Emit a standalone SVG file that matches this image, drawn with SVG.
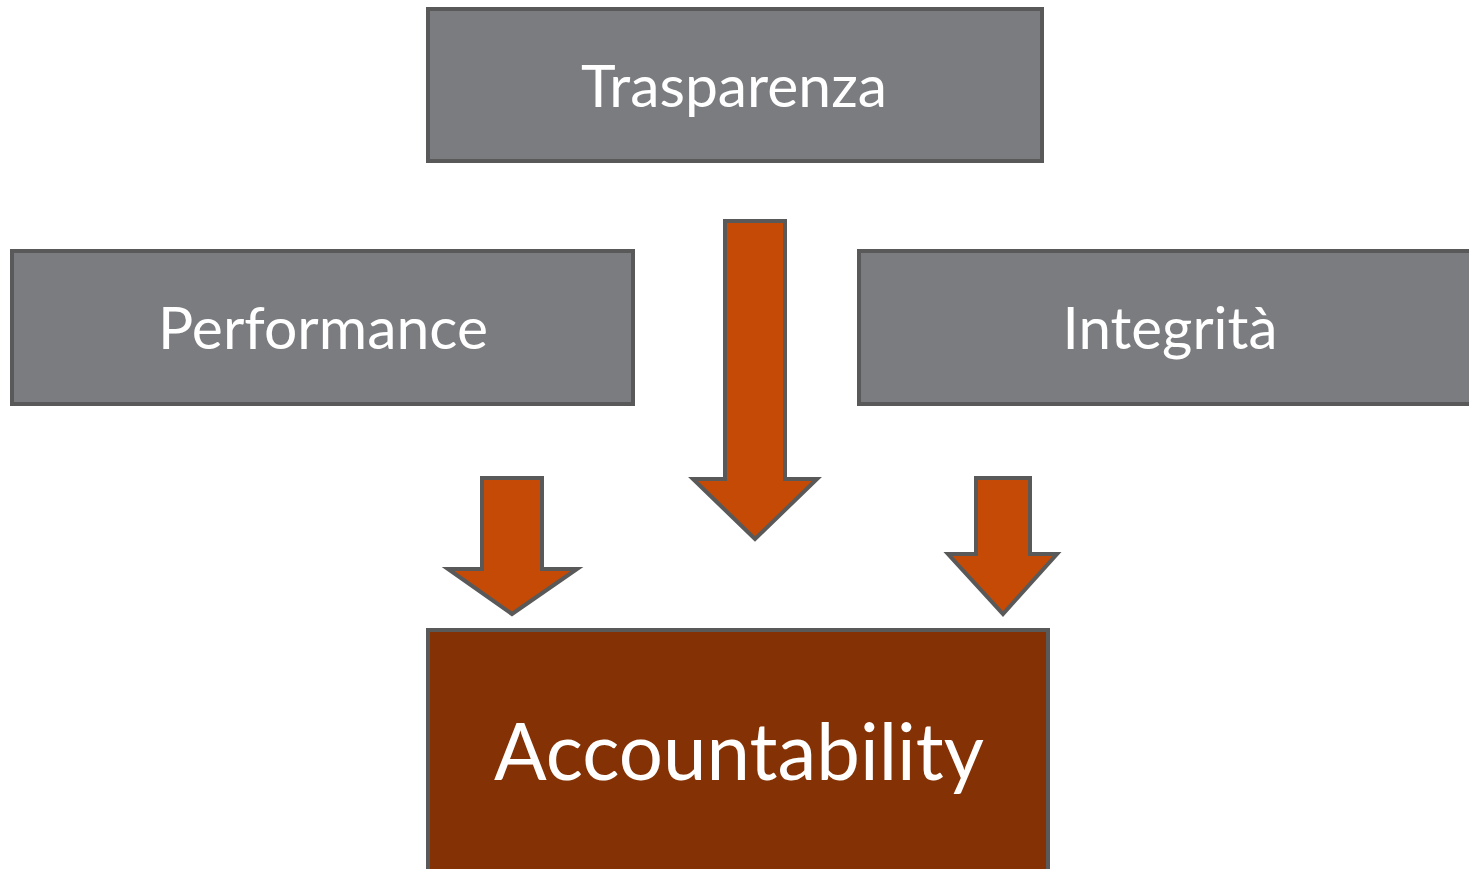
<svg xmlns="http://www.w3.org/2000/svg" width="1469" height="869" viewBox="0 0 1469 869">
<style>
.box{fill:#7b7c80;stroke:#595959;stroke-width:4}
.acc{fill:#843205;stroke:#595959;stroke-width:4}
.arr{fill:#c54a06;stroke:#595959;stroke-width:4;stroke-linejoin:miter}
.t{fill:#ffffff;font-family:Lato,"Open Sans","Liberation Sans",sans-serif;text-anchor:middle}
</style>
<rect width="1469" height="869" fill="#ffffff"/>
<g id="trasparenza">
<rect class="box" x="428" y="9" width="614" height="152"/>
<text class="t" x="734" y="107" font-size="58" textLength="306" lengthAdjust="spacingAndGlyphs">Trasparenza</text>
</g>
<g id="performance">
<rect class="box" x="12" y="251" width="621" height="153"/>
<text class="t" x="323" y="349" font-size="58" textLength="330" lengthAdjust="spacingAndGlyphs">Performance</text>
</g>
<g id="integrita">
<rect class="box" x="859" y="251" width="620" height="153"/>
<text class="t" x="1170" y="349" font-size="58" textLength="215" lengthAdjust="spacingAndGlyphs">Integrità</text>
</g>
<g id="accountability">
<rect class="acc" x="428" y="630" width="620" height="250"/>
<text class="t" x="739" y="780" font-size="80" textLength="490" lengthAdjust="spacingAndGlyphs">Accountability</text>
</g>
<g id="connectors">
<polygon class="arr" points="725,221 785,221 785,479 817,479 755,539 693,479 725,479"/>
<polygon class="arr" points="482,478 542,478 542,569 577,569 512,614 448,569 482,569"/>
<polygon class="arr" points="976,478 1030,478 1030,554 1057,554 1003,614 948,554 976,554"/>
</g>
</svg>
